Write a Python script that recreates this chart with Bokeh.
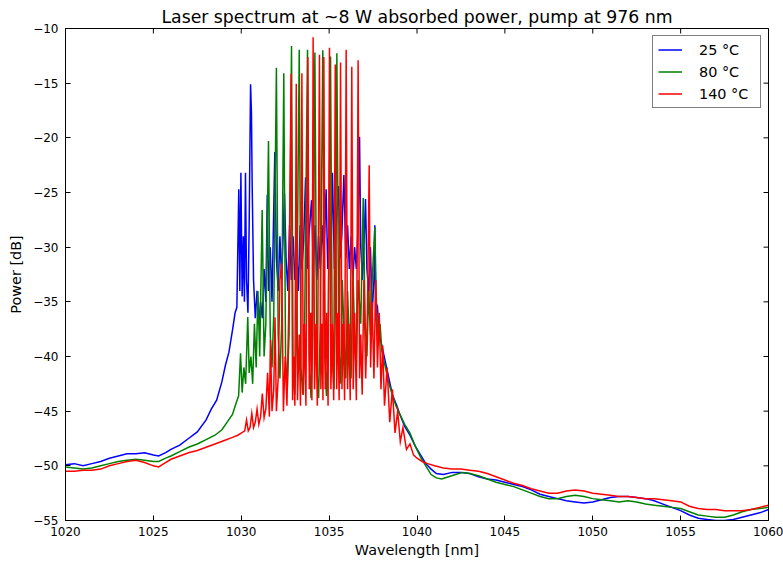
import math
from bokeh.plotting import figure
from bokeh.models import Range1d, FixedTicker, Legend, LegendItem
from bokeh.embed import file_html
from bokeh.resources import INLINE

# ---------------- data ----------------
x_ticks = [1020, 1025, 1030, 1035, 1040, 1045, 1050, 1055, 1060]
y_ticks = [-55, -50, -45, -40, -35, -30, -25, -20, -15, -10]
series_labels = ["25 °C", "80 °C", "140 °C"]
series_colors = ["#0000ff", "#008000", "#ff0000"]

wl_25 = [1020.0, 1020.5, 1021.0, 1021.5, 1022.0, 1022.5, 1023.0, 1023.5, 1024.0, 1024.5,
         1025.0, 1025.3, 1025.7, 1026.0, 1026.5, 1027.0, 1027.5, 1028.0, 1028.3, 1028.6,
         1028.9, 1029.1, 1029.3, 1029.5, 1029.65, 1029.75, 1029.86, 1029.92, 1029.98, 1030.05,
         1030.12, 1030.18, 1030.24, 1030.3, 1030.38, 1030.45, 1030.53, 1030.58, 1030.62, 1030.7,
         1030.8, 1030.9, 1031.0, 1031.1, 1031.2, 1031.3, 1031.4, 1031.48, 1031.55, 1031.65,
         1031.75, 1031.91, 1032.0, 1032.1, 1032.2, 1032.3, 1032.46, 1032.55, 1032.65, 1032.75,
         1032.85, 1032.95, 1033.05, 1033.15, 1033.25, 1033.35, 1033.45, 1033.55, 1033.66, 1033.75,
         1033.85, 1034.0, 1034.1, 1034.2, 1034.3, 1034.4, 1034.5, 1034.6, 1034.7, 1034.83,
         1034.92, 1035.0, 1035.1, 1035.19, 1035.3, 1035.4, 1035.53, 1035.62, 1035.72, 1035.84,
         1035.95, 1036.05, 1036.15, 1036.25, 1036.35, 1036.45, 1036.55, 1036.65, 1036.73, 1036.8,
         1036.9, 1037.0, 1037.07, 1037.15, 1037.25, 1037.35, 1037.45, 1037.55, 1037.6, 1037.65,
         1037.75, 1037.85, 1038.0, 1038.2, 1038.4, 1038.6, 1038.8, 1039.0, 1039.3, 1039.6,
         1039.9, 1040.2, 1040.5, 1040.8, 1041.1, 1041.5, 1042.0, 1042.5, 1043.0, 1043.5,
         1044.0, 1044.5, 1045.0, 1045.5, 1046.0, 1046.5, 1047.0, 1047.5, 1048.0, 1048.5,
         1049.0, 1049.5, 1050.0, 1050.5, 1051.0, 1051.5, 1052.0, 1052.5, 1053.0, 1053.5,
         1054.0, 1054.5, 1055.0, 1055.5, 1056.0, 1056.5, 1057.0, 1057.5, 1058.0, 1058.5,
         1059.0, 1059.5, 1060.0]
db_25 = [-49.9, -49.8, -50.0, -49.8, -49.6, -49.3, -49.1, -48.9, -48.9, -48.8,
         -49.0, -49.1, -48.8, -48.5, -48.1, -47.5, -46.9, -45.8, -44.8, -44.0,
         -42.3, -40.8, -39.6, -37.6, -36.0, -35.5, -24.7, -34.0, -23.2, -34.5,
         -29.0, -35.0, -23.2, -33.0, -36.0, -28.0, -15.1, -17.7, -24.2, -33.0,
         -36.5, -34.0, -37.0, -35.0, -36.5, -32.0, -35.0, -25.2, -34.0, -30.0,
         -35.0, -21.3, -31.0, -34.0, -29.0, -33.0, -25.1, -31.0, -34.0, -28.0,
         -33.0, -29.0, -33.0, -30.0, -34.0, -28.0, -32.0, -29.5, -23.6, -32.0,
         -29.0, -25.7, -32.0, -28.0, -33.0, -29.0, -32.0, -28.0, -31.0, -24.7,
         -32.0, -28.0, -31.0, -23.2, -32.0, -28.0, -24.4, -31.0, -29.0, -23.4,
         -31.0, -28.0, -32.0, -29.0, -33.0, -30.0, -32.0, -28.0, -19.9, -30.0,
         -33.0, -29.0, -25.6, -32.0, -34.0, -30.0, -36.0, -33.0, -28.0, -36.0,
         -35.5, -38.0, -39.0, -40.5, -42.0, -43.5, -44.3, -45.2, -46.4, -47.2,
         -48.2, -49.0, -49.8, -50.3, -50.7, -50.8, -50.6, -50.6, -50.7, -51.0,
         -51.2, -51.3, -51.5, -51.7, -51.9, -52.2, -52.6, -52.8, -53.0, -53.2,
         -53.3, -53.4, -53.3, -53.1, -52.9, -52.8, -52.8, -52.9, -53.0, -53.2,
         -53.5, -53.8, -54.1, -54.5, -54.8, -54.9, -55.0, -55.0, -54.9, -54.7,
         -54.5, -54.3, -54.0]

wl_80 = [1020.0, 1020.5, 1021.0, 1021.5, 1022.0, 1022.5, 1023.0, 1023.5, 1024.0, 1024.5,
         1025.0, 1025.3, 1025.7, 1026.0, 1026.5, 1027.0, 1027.5, 1028.0, 1028.5, 1028.9,
         1029.2, 1029.5, 1029.7, 1029.85, 1029.96, 1030.05, 1030.15, 1030.25, 1030.37, 1030.45,
         1030.55, 1030.65, 1030.75, 1030.85, 1030.95, 1031.05, 1031.19, 1031.3, 1031.4, 1031.55,
         1031.65, 1031.75, 1031.85, 1032.0, 1032.1, 1032.2, 1032.3, 1032.42, 1032.52, 1032.62,
         1032.72, 1032.86, 1032.95, 1033.05, 1033.15, 1033.3, 1033.4, 1033.5, 1033.6, 1033.77,
         1033.87, 1033.97, 1034.07, 1034.19, 1034.3, 1034.4, 1034.5, 1034.64, 1034.75, 1034.85,
         1034.95, 1035.08, 1035.18, 1035.28, 1035.35, 1035.44, 1035.55, 1035.65, 1035.75, 1035.85,
         1035.95, 1036.05, 1036.15, 1036.25, 1036.35, 1036.45, 1036.55, 1036.65, 1036.8, 1036.94,
         1037.05, 1037.15, 1037.25, 1037.35, 1037.45, 1037.6, 1037.7, 1037.8, 1037.9, 1038.0,
         1038.2, 1038.4, 1038.6, 1038.8, 1039.0, 1039.3, 1039.6, 1039.9, 1040.2, 1040.5,
         1040.8, 1041.1, 1041.4, 1041.8, 1042.2, 1042.6, 1043.0, 1043.5, 1044.0, 1044.5,
         1045.0, 1045.5, 1046.0, 1046.5, 1047.0, 1047.5, 1048.0, 1048.5, 1049.0, 1049.5,
         1050.0, 1050.5, 1051.0, 1051.5, 1052.0, 1052.5, 1053.0, 1053.5, 1054.0, 1054.5,
         1055.0, 1055.5, 1056.0, 1056.5, 1057.0, 1057.5, 1058.0, 1058.5, 1059.0, 1059.5,
         1060.0]
db_80 = [-50.1, -50.2, -50.3, -50.2, -50.0, -49.8, -49.6, -49.5, -49.4, -49.5,
         -49.6, -49.6, -49.3, -49.1, -48.7, -48.3, -48.0, -47.6, -47.2, -46.7,
         -46.0, -45.3, -44.3, -43.6, -39.7, -43.3, -41.0, -42.5, -36.4, -41.5,
         -40.0, -42.5, -37.0, -41.0, -34.0, -40.0, -26.6, -40.0, -37.0, -20.3,
         -38.0, -41.0, -36.0, -13.6, -38.0, -42.0, -37.0, -14.1, -40.0, -43.0,
         -38.0, -11.6, -41.0, -43.5, -38.0, -11.95, -41.0, -43.5, -38.0, -11.95,
         -40.0, -43.8, -38.0, -12.2, -41.0, -43.8, -37.0, -12.0, -40.0, -43.6,
         -37.0, -12.56, -40.0, -43.0, -36.0, -12.26, -39.0, -42.5, -33.0, -38.0,
         -42.0, -34.0, -39.0, -42.0, -32.0, -38.0, -41.0, -33.0, -37.0, -25.5,
         -37.0, -40.0, -34.0, -38.0, -33.0, -28.2, -36.0, -39.0, -37.0, -39.5,
         -41.0, -42.5, -43.5, -44.5, -45.2, -46.2, -47.0, -48.2, -49.2, -50.0,
         -50.8, -51.1, -51.2, -51.0, -50.8, -50.6, -50.7, -50.9, -51.2, -51.5,
         -51.7, -51.9, -52.2, -52.5, -52.8, -53.0, -53.0, -52.8, -52.7, -52.8,
         -53.0, -53.1, -53.2, -53.3, -53.2, -53.3, -53.5, -53.6, -53.7, -53.8,
         -53.9, -54.2, -54.5, -54.6, -54.7, -54.7, -54.5, -54.2, -54.0, -53.9,
         -53.8]

wl_140 = [1020.0, 1020.5, 1021.0, 1021.5, 1022.0, 1022.5, 1023.0, 1023.5, 1024.0, 1024.5,
          1025.0, 1025.3, 1025.6, 1026.0, 1026.5, 1027.0, 1027.5, 1028.0, 1028.5, 1029.0,
          1029.5, 1029.8, 1030.0, 1030.2, 1030.3, 1030.4, 1030.5, 1030.6, 1030.7, 1030.8,
          1030.9, 1031.0, 1031.1, 1031.2, 1031.3, 1031.4, 1031.5, 1031.6, 1031.66, 1031.75,
          1031.85, 1031.92, 1032.0, 1032.1, 1032.2, 1032.3, 1032.4, 1032.5, 1032.6, 1032.7,
          1032.84, 1032.92, 1033.0, 1033.05, 1033.13, 1033.2, 1033.3, 1033.37, 1033.45, 1033.53,
          1033.6, 1033.68, 1033.79, 1033.87, 1033.95, 1034.02, 1034.09, 1034.17, 1034.25, 1034.33,
          1034.45, 1034.53, 1034.6, 1034.65, 1034.7, 1034.78, 1034.86, 1034.94, 1035.02, 1035.1,
          1035.18, 1035.26, 1035.35, 1035.43, 1035.5, 1035.57, 1035.65, 1035.73, 1035.8, 1035.88,
          1035.97, 1036.05, 1036.12, 1036.2, 1036.29, 1036.37, 1036.45, 1036.55, 1036.65, 1036.73,
          1036.8, 1036.88, 1036.98, 1037.08, 1037.18, 1037.28, 1037.36, 1037.45, 1037.55, 1037.65,
          1037.75, 1037.85, 1037.95, 1038.05, 1038.15, 1038.3, 1038.45, 1038.6, 1038.75, 1038.9,
          1039.05, 1039.2, 1039.4, 1039.6, 1039.8, 1040.0, 1040.3, 1040.6, 1041.0, 1041.5,
          1042.0, 1042.5, 1043.0, 1043.5, 1044.0, 1044.5, 1045.0, 1045.5, 1046.0, 1046.5,
          1047.0, 1047.5, 1048.0, 1048.5, 1049.0, 1049.5, 1050.0, 1050.5, 1051.0, 1051.5,
          1052.0, 1052.5, 1053.0, 1053.5, 1054.0, 1054.5, 1055.0, 1055.5, 1056.0, 1056.5,
          1057.0, 1057.5, 1058.0, 1058.5, 1059.0, 1059.5, 1060.0]
db_140 = [-50.5, -50.5, -50.4, -50.4, -50.3, -50.0, -49.8, -49.6, -49.5, -49.7,
          -50.0, -50.1, -49.8, -49.4, -49.1, -48.8, -48.6, -48.3, -48.0, -47.7,
          -47.4, -47.2, -47.0, -46.8, -45.8, -46.8, -46.5, -45.2, -46.5, -46.0,
          -44.8, -46.2, -45.5, -43.4, -45.6, -44.8, -41.5, -45.5, -38.5, -45.0,
          -43.0, -36.4, -45.0, -42.0, -33.0, -31.5, -45.0, -40.0, -44.5, -36.0,
          -14.15, -44.0, -40.0, -44.5, -15.06, -44.0, -38.0, -44.5, -14.1, -43.5,
          -37.0, -44.5, -12.6, -43.0, -36.0, -44.0, -10.8, -43.0, -37.0, -44.5,
          -12.4, -43.0, -37.0, -44.0, -12.6, -43.0, -36.0, -44.5, -11.77, -43.0,
          -37.0, -44.0, -13.3, -43.0, -36.0, -44.0, -13.1, -43.0, -37.0, -44.0,
          -11.95, -43.0, -37.0, -44.0, -13.5, -43.0, -36.0, -44.0, -12.9, -42.0,
          -38.0, -43.5, -33.0, -42.0, -36.0, -22.5, -41.0, -35.0, -42.0, -33.0,
          -41.0, -36.0, -43.0, -39.0, -44.5, -41.0, -46.0, -43.0, -47.0, -45.0,
          -47.8, -46.5, -48.5, -48.0, -49.0, -49.3, -49.6, -49.8, -50.0, -50.2,
          -50.3, -50.3, -50.4, -50.5, -50.7, -51.0, -51.3, -51.6, -51.8, -52.1,
          -52.3, -52.5, -52.5, -52.3, -52.2, -52.3, -52.5, -52.6, -52.7, -52.8,
          -52.8, -52.9, -53.0, -53.0, -53.1, -53.2, -53.3, -53.7, -53.9, -54.0,
          -54.0, -54.1, -54.1, -54.1, -54.0, -53.8, -53.6]

# ---------------- figure ----------------
FONT = "DejaVu Sans"

p = figure(width=783, height=562,
           x_range=Range1d(1020, 1060), y_range=Range1d(-55, -10),
           output_backend="svg", toolbar_location=None,
           min_border_left=65, min_border_right=15,
           min_border_top=28, min_border_bottom=42,
           title="Laser spectrum at ~8 W absorbed power, pump at 976 nm")

p.title.text_font = FONT
p.title.text_font_size = "17.3px"
p.title.text_font_style = "normal"
p.title.align = "center"
p.title.text_color = "black"
p.title.standoff = 4

p.background_fill_color = "white"
p.border_fill_color = "white"
p.outline_line_color = "black"
p.outline_line_width = 1
p.grid.visible = False

for ax, ticks in ((p.xaxis[0], x_ticks), (p.yaxis[0], y_ticks)):
    ax.ticker = FixedTicker(ticks=ticks)
    ax.major_tick_in = 5
    ax.major_tick_out = 0
    ax.minor_tick_line_color = None
    ax.major_tick_line_color = "black"
    ax.axis_line_color = "black"
    ax.major_label_text_font = FONT
    ax.major_label_text_font_size = "12px"
    ax.major_label_text_color = "black"
    ax.major_label_standoff = 6
    ax.axis_label_text_font = FONT
    ax.axis_label_text_font_size = "14.4px"
    ax.axis_label_text_font_style = "normal"
    ax.axis_label_text_color = "black"

p.xaxis[0].axis_label = "Wavelength [nm]"
p.xaxis[0].axis_label_standoff = 3
p.yaxis[0].axis_label = "Power [dB]"
p.yaxis[0].axis_label_standoff = 6
p.yaxis[0].major_label_standoff = 7
p.yaxis[0].major_label_overrides = {t: "\u2212" + str(abs(t)) for t in y_ticks}

# inward tick marks on the top and right edges (matplotlib classic frame)
p.ray(x=x_ticks, y=[-10] * len(x_ticks), length=5, length_units="screen",
      angle=-math.pi / 2, line_color="black", line_width=1)
p.ray(x=[1060] * len(y_ticks), y=y_ticks, length=5, length_units="screen",
      angle=math.pi, line_color="black", line_width=1)

renderers = []
for wl, db, col in [(wl_25, db_25, series_colors[0]),
                    (wl_80, db_80, series_colors[1]),
                    (wl_140, db_140, series_colors[2])]:
    r = p.line(wl, db, line_color=col, line_width=1.5, line_join="miter")
    renderers.append(r)

legend = Legend(items=[LegendItem(label=lab, renderers=[r])
                       for lab, r in zip(series_labels, renderers)],
                location="top_right")
legend.label_text_font = FONT
legend.label_text_font_size = "14.4px"
legend.label_text_color = "black"
legend.border_line_color = "black"
legend.border_line_width = 1
legend.background_fill_color = "white"
legend.background_fill_alpha = 1
legend.margin = 7
legend.padding = 5
legend.spacing = 5
legend.glyph_width = 24
legend.glyph_height = 17
legend.label_height = 17
legend.label_width = 56
legend.label_standoff = 17
p.add_layout(legend)

open("out.html", "w").write(file_html(p, INLINE))
